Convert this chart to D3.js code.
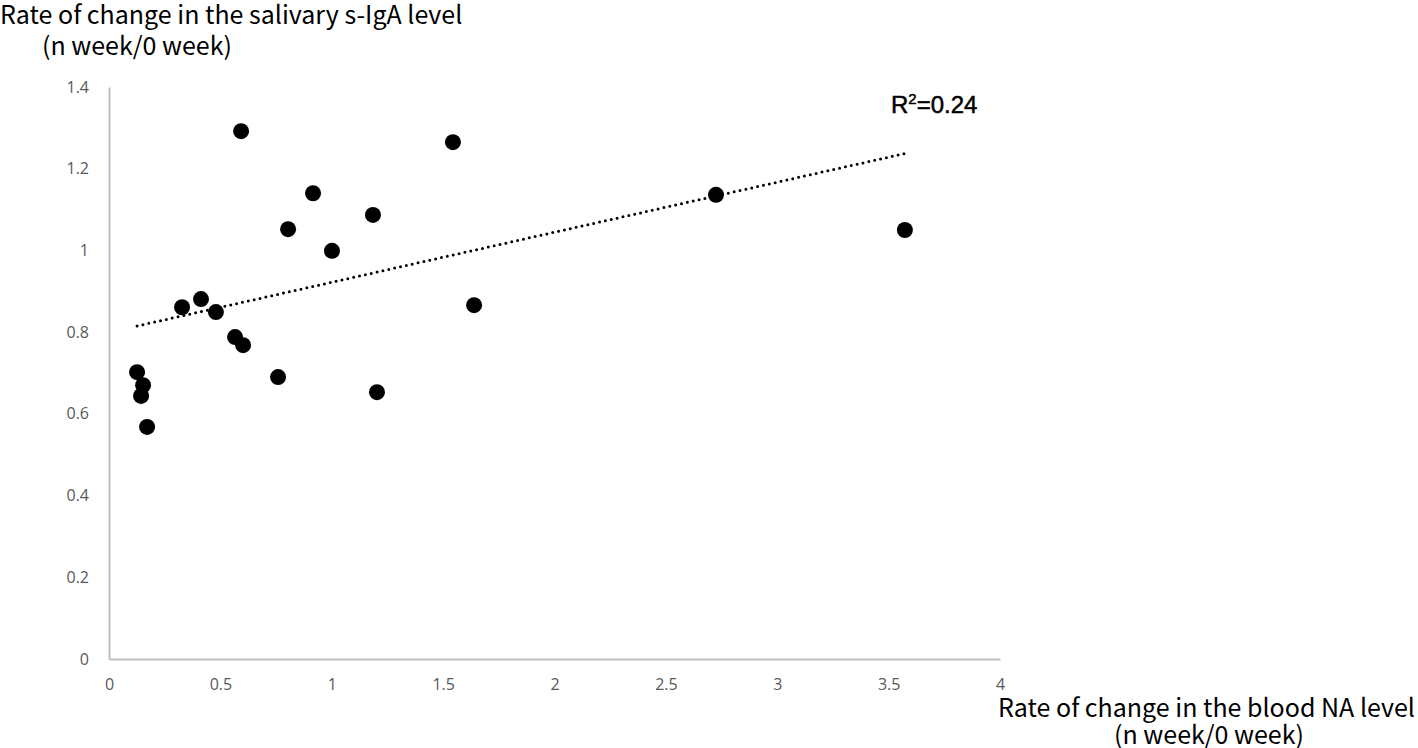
<!DOCTYPE html>
<html><head><meta charset="utf-8">
<script src="https://cdn.jsdelivr.net/npm/d3@7/dist/d3.min.js"></script>
<style>body{margin:0;background:#fff}</style>
</head><body>
<svg id="c" width="1418" height="748"></svg>
<script>
const xVals = [0.593,1.544,0.916,2.725,1.185,0.804,3.573,1.001,0.328,0.413,0.480,1.639,0.566,0.602,0.759,1.203,0.126,0.153,0.144,0.171];
const yVals = [1.292,1.265,1.140,1.136,1.087,1.052,1.050,0.999,0.861,0.881,0.849,0.866,0.788,0.768,0.690,0.653,0.702,0.670,0.644,0.568];
const xTicks = [0,0.5,1,1.5,2,2.5,3,3.5,4];
const yTicks = [0,0.2,0.4,0.6,0.8,1,1.2,1.4];
const trendSlope = 0.1225, trendIntercept = 0.7996;
const trendRange = [0.126, 3.59];
const r2Label = "0.24";

const svg = d3.select("#c");
const x = d3.scaleLinear().domain([0,4]).range([109,1000]);
const y = d3.scaleLinear().domain([0,1.4]).range([659,87]);

// axes
const xa = svg.append("g").attr("transform","translate(0,659)")
  .call(d3.axisBottom(x).tickValues(xTicks).tickSize(0).tickPadding(20).tickFormat(d=>String(d)));
const ya = svg.append("g").attr("transform","translate(109,0)")
  .call(d3.axisLeft(y).tickValues(yTicks).tickSize(0).tickPadding(20).tickFormat(d=>String(d)));
[xa,ya].forEach(a=>{
  a.select(".domain").attr("stroke","#bfbfbf").attr("stroke-width",2);
  a.selectAll("text").attr("fill","#595959").style("font-family","'Open Sans', 'Liberation Sans', sans-serif").style("font-size","16px");
});

// trendline
svg.append("line")
  .attr("x1",x(trendRange[0])).attr("y1",y(trendIntercept+trendSlope*trendRange[0]))
  .attr("x2",x(trendRange[1])).attr("y2",y(trendIntercept+trendSlope*trendRange[1]))
  .attr("stroke","#000").attr("stroke-width",3).attr("stroke-linecap","round").attr("stroke-dasharray","0 6");

// points
svg.append("g").selectAll("circle").data(xVals.map((v,i)=>[v,yVals[i]])).join("circle")
  .attr("cx",d=>x(d[0])).attr("cy",d=>y(d[1])).attr("r",8).attr("fill","#000");

// R2 label
const r = svg.append("text").attr("x",891).attr("y",113)
  .style("font-family","'Liberation Sans', Arial, sans-serif").style("font-size","24px").attr("fill","#000")
  .attr("stroke","#000").attr("stroke-width",0.5);
r.append("tspan").text("R");
r.append("tspan").text("2").attr("dy",-9).style("font-size","15px");
r.append("tspan").text("=" + r2Label).attr("dy",9);

// axis titles
const tf = "'Noto Sans CJK JP', sans-serif";
svg.append("text").attr("x",0).attr("y",24).text("Rate of change in the salivary s-IgA level")
  .style("font-family",tf).style("font-size","25px").attr("fill","#000");
svg.append("text").attr("x",42).attr("y",55).text("(n week/0 week)")
  .style("font-family",tf).style("font-size","25px").attr("fill","#000");
svg.append("text").attr("x",998).attr("y",717).text("Rate of change in the blood NA level")
  .style("font-family",tf).style("font-size","25px").attr("fill","#000");
svg.append("text").attr("x",1209).attr("y",744).attr("text-anchor","middle").text("(n week/0 week)")
  .style("font-family",tf).style("font-size","25px").attr("fill","#000");
</script>
</body></html>
